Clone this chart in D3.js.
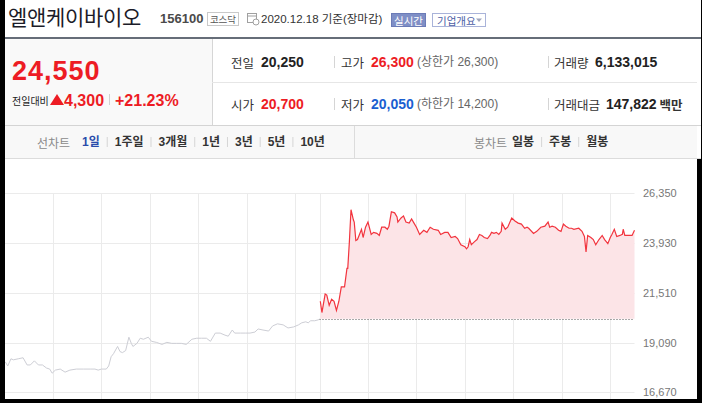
<!DOCTYPE html>
<html><head><meta charset="utf-8">
<script src="https://cdn.jsdelivr.net/npm/d3@7"></script>
<style>html,body{margin:0;padding:0;background:#fff;overflow:hidden}svg{display:block}</style>
</head><body><svg id="c" width="702" height="403"></svg>
<script>
// ---- data ----
const stockName = "엘앤케이바이오";
const stockCode = "156100";
const market = "코스닥";
const dateText = "2020.12.18 기준(장마감)";
const currentPrice = "24,550";
const changeAmt = "4,300";
const changePct = "+21.23%";
const prevClose = 20250;
const infoRow1 = [["전일","20,250","#222",""],["고가","26,300","#ed1c24","(상한가 26,300)"],["거래량","6,133,015","#222",""]];
const infoRow2 = [["시가","20,700","#ed1c24",""],["저가","20,050","#1a5fd1","(하한가 14,200)"],["거래대금","147,822","#222","백만"]];
const lineTabs = ["1일","1주일","3개월","1년","3년","5년","10년"];
const candleTabs = ["일봉","주봉","월봉"];
const yTicks = [16670, 19090, 21510, 23930, 26350];
const hourTicks = [60, 120, 180, 240, 300, 360]; // minutes after 09:00
// previous session (minutes after 09:00)
const prevTimes = [1,4,8,11,17,23,28,32,37,42,47,52,56,59,63,69,75,81,89,98,106,112,116,120,126,129,132,135,140,143,146,150,154,157,159,164,168,172,178,182,188,195,201,207,213,219,225,232,238,244,250,255,261,267,273,277,282,285,292,298,304,310,314,320,327,332,338,345,351,358,364,368,373,376,379,384,389,390];
const prevPrices = [18150,17950,18300,18250,18300,18350,18000,18000,18200,18000,18000,17850,17800,17600,17750,17800,17650,17750,17800,17800,17800,17800,17750,17800,17800,17950,18400,18550,18900,18650,18600,18700,19350,19050,18900,19050,19300,19250,19350,19150,19100,19000,19100,19050,19050,19050,19000,19250,19300,19300,19300,19150,19550,19550,19450,19400,19700,19550,19550,19550,19550,19600,19750,19700,19650,19900,20000,19950,19800,19850,19950,20050,20100,20050,20150,20150,20200,20250];
// today's session (minutes after 09:00)
const todayTimes = [1,3,7,9,12,15,18,21,24,27,31,34,35,37,39,42,43,45,47,49,52,54,57,60,64,67,71,74,77,81,84,86,89,93,96,97,101,104,107,111,114,117,120,124,129,133,137,141,147,150,155,159,163,168,171,175,180,182,184,186,188,192,195,198,201,204,208,211,213,216,219,222,225,226,230,233,238,242,246,250,254,257,259,265,269,274,279,283,285,288,292,296,299,302,305,309,312,315,321,325,328,330,332,336,339,342,346,350,353,357,360,362,365,368,372,375,376,378,383,387,390];
const todayPrices = [21100,20550,21450,21400,20900,21200,21100,20650,21100,21800,21800,22700,22700,24000,25550,25050,24950,24050,24100,24300,24600,24200,24700,24950,24350,24450,24400,24300,24700,24700,24600,24750,25450,25400,25200,24950,25150,25250,24950,24900,25100,24900,24700,24350,24550,24450,24700,24600,24550,24350,24450,24450,24200,24250,24150,23850,23750,23650,23750,24100,23850,24000,24100,24350,24300,24200,24150,24300,24450,24400,24450,24350,24500,24900,24600,24700,25150,25000,24900,24850,24650,24700,24650,24400,24500,24700,24750,24950,24700,24750,24700,24550,24500,24850,24750,24650,24650,24600,24650,24500,24250,23500,24300,24200,24100,23850,24100,24300,24100,23900,24200,24350,24600,24250,24300,24350,24600,24300,24300,24300,24550];

// ---- drawing ----
const svg = d3.select("#c");
const LAT = "'Liberation Sans', 'Noto Sans CJK KR', sans-serif";
const KR = "'Noto Sans CJK KR', 'Liberation Sans', sans-serif";
function T(x, y, s, o = {}) {
  const t = svg.append("text").attr("x", x).attr("y", y).text(s)
    .attr("dominant-baseline", o.base || "central")
    .attr("font-family", o.ff || LAT)
    .attr("font-size", o.fs || 12)
    .attr("font-weight", o.fw || 400)
    .attr("fill", o.c || "#333");
  if (o.anchor) t.attr("text-anchor", o.anchor);
  if (o.ls) t.attr("letter-spacing", o.ls);
  return t;
}
function R(x, y, w, h, fill, stroke) {
  return svg.append("rect").attr("x", x).attr("y", y).attr("width", w).attr("height", h)
    .attr("fill", fill || "none").attr("stroke", stroke || "none");
}
function L(x1, y1, x2, y2, c, w = 1) {
  return svg.append("line").attr("x1", x1).attr("y1", y1).attr("x2", x2).attr("y2", y2)
    .attr("stroke", c).attr("stroke-width", w);
}

// backgrounds
R(0, 0, 702, 403, "#fff");
R(5, 39, 207, 87, "#f9f9f9");
L(212.5, 39, 212.5, 126, "#d6d6d6");
L(212, 82.5, 697, 82.5, "#e6e6e6");
R(5, 126, 692, 32, "#f8f8f8");
L(5, 125.5, 702, 125.5, "#d4d4d4");
L(5, 158.5, 702, 158.5, "#dcdcdc");
L(354.5, 126, 354.5, 158, "#dcdcdc");
R(5, 37, 697, 2, "#666d78");

// header
T(8, 16, stockName, {ff: KR, fs: 21, c: "#1c1c28", ls: -0.3});
T(160, 18, stockCode, {fs: 13, fw: 700, c: "#4a4a4a"});
R(207.5, 12.5, 31, 13, "#fff", "#c9c9c9");
T(223, 19, market, {ff: KR, fs: 9.5, c: "#555", anchor: "middle"});
// calendar icon
R(247.5, 13.5, 9, 9, "#fff", "#a0a0a0");
L(247.5, 16, 256.5, 16, "#a0a0a0");
svg.append("circle").attr("cx", 256).attr("cy", 22).attr("r", 3).attr("fill", "#fff").attr("stroke", "#a0a0a0");
T(261, 19, dateText, {fs: 11.5, c: "#333"});
R(391.5, 13.5, 34, 13, "#7f8fc6", "#6b7bb7");
T(408.5, 20, "실시간", {ff: KR, fs: 10.5, c: "#fff", anchor: "middle"});
R(432.5, 13.5, 53, 13, "#fff", "#a9b3d9");
T(437, 20, "기업개요", {ff: KR, fs: 10.5, c: "#4c5ea5"});
svg.append("path").attr("d", "M476,18.5 L482,18.5 L479,22 Z").attr("fill", "#a0a6bd");

// price block
T(12, 71, currentPrice, {fs: 27, fw: 700, c: "#ed1c24", ls: 1});
T(12, 100, "전일대비", {ff: KR, fs: 10, c: "#222"});
svg.append("path").attr("d", "M50,105 L57,94 L64,105 Z").attr("fill", "#ed1c24");
T(64, 100, changeAmt, {fs: 16, fw: 700, c: "#ed1c24"});
L(109.5, 94, 109.5, 105, "#d0d0d0");
T(115, 100, changePct, {fs: 16, fw: 700, c: "#ed1c24"});

const colX = [[231, 261, null], [341, 371, 417], [554, 595, 656]];
[infoRow1, infoRow2].forEach((row, ri) => {
  const cy = ri === 0 ? 62 : 104;
  row.forEach((cell, ci) => {
    const [lab, val, col, extra] = cell;
    let vx = colX[ci][1];
    if (ci === 2 && ri === 1) vx = 606;
    T(colX[ci][0], cy, lab, {ff: KR, fs: 12.5, c: "#333"});
    const vt = T(vx, cy, val, {fs: 14, fw: 700, c: col});
    if (extra) {
      if (ci === 1) T(colX[ci][2], cy, extra, {fs: 12, c: "#666"});
      else T(vx + vt.node().getComputedTextLength() + 3, cy, extra, {ff: KR, fs: 12.5, fw: 700, c: "#333"});
    }
  });
  L(334.5, cy - 6, 334.5, cy + 6, "#d5d5d5");
  L(548.5, cy - 6, 548.5, cy + 6, "#d5d5d5");
});

// tabs
T(37, 142, "선차트", {ff: KR, fs: 12, c: "#8a8a8a"});
let cx = 82;
lineTabs.forEach((s, i) => {
  const t = T(cx, 142, s, {fs: 12, fw: 700, c: i === 0 ? "#2a4bab" : "#333"});
  cx += t.node().getComputedTextLength();
  if (i < lineTabs.length - 1) { L(cx + 7.5, 137, cx + 7.5, 147, "#d5d5d5"); cx += 15; }
});
T(474, 142, "봉차트", {ff: KR, fs: 12, c: "#8a8a8a"});
cx = 512;
candleTabs.forEach((s, i) => {
  const t = T(cx, 142, s, {fs: 12, fw: 700, c: "#333"});
  cx += t.node().getComputedTextLength();
  if (i < candleTabs.length - 1) { L(cx + 7.5, 137, cx + 7.5, 147, "#d5d5d5"); cx += 15; }
});

// chart
const x = d3.scaleLinear().domain([-390, 390]).range([4.5, 634.5]);
const y = d3.scaleLinear().domain([16670, 26350]).range([392.3, 193.3]);
const g = svg.append("g");
yTicks.forEach(v => {
  g.append("line").attr("x1", 5).attr("x2", x(390)).attr("y1", Math.round(y(v)) + 0.5).attr("y2", Math.round(y(v)) + 0.5).attr("stroke", "#ebebeb");
});
const vTicks = hourTicks.map(m => m - 390).concat([0]).concat(hourTicks);
vTicks.forEach(m => {
  g.append("line").attr("x1", Math.round(x(m)) + 0.5).attr("x2", Math.round(x(m)) + 0.5).attr("y1", y(26350)).attr("y2", 399).attr("stroke", "#ebebeb");
});
yTicks.forEach(v => T(643, y(v), d3.format(",")(v), {fs: 11, c: "#777"}));

const prevData = prevTimes.map((t, i) => [t - 390, prevPrices[i]]);
const todayData = todayTimes.map((t, i) => [t, todayPrices[i]]);
const area = d3.area().x(d => x(d[0])).y0(y(prevClose)).y1(d => y(d[1]));
g.append("path").datum(todayData).attr("d", area).attr("fill", "#fce4e7");
g.append("line").attr("x1", x(0)).attr("x2", x(390)).attr("y1", Math.round(y(prevClose)) + 0.5).attr("y2", Math.round(y(prevClose)) + 0.5)
  .attr("stroke", "#555").attr("stroke-dasharray", "1,2");
const line = d3.line().x(d => x(d[0])).y(d => y(d[1]));
g.append("path").datum(prevData).attr("d", line).attr("fill", "none").attr("stroke", "#cdced5").attr("stroke-width", 1);
g.append("path").datum(todayData).attr("d", line).attr("fill", "none").attr("stroke", "#f2343e").attr("stroke-width", 1.2);

// frame
R(0, 0, 5, 403, "#000");
R(697, 159, 5, 244, "#000");
R(701, 0, 1, 159, "#000");
R(0, 399, 702, 4, "#000");
</script></body></html>
